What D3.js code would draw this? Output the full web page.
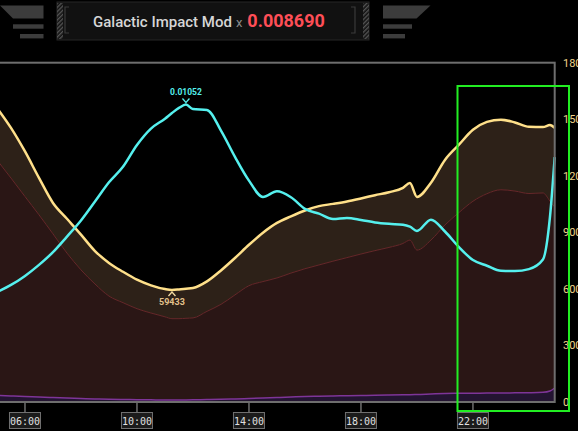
<script src="https://d3js.org/d3.v7.min.js"></script>

<style>
  body { margin: 0; background: #000; overflow: hidden; }
</style>

<div id="my_dataviz"></div>

<script>

// hours of the day (24+ = after midnight)
var hours = [5, 5.5, 6, 6.5, 7, 7.5, 8, 8.5, 9, 9.5, 10, 10.5, 11, 11.25, 11.5, 11.75,
  12, 12.5, 13, 13.5, 14, 14.5, 15, 15.5, 16, 16.5, 17, 17.5, 18, 18.5, 19, 19.5, 19.75,
  20, 20.5, 21, 21.5, 22, 22.5, 23, 23.5, 24, 24.5, 24.75, 24.92];

// total (yellow line, right axis)
var totalValues = [156000, 145400, 132900, 118900, 105600, 97200, 88800, 80100, 73800, 69100,
  64900, 61900, 59900, 59433, 59700, 60100, 60500, 64000, 69800, 76400, 83400, 89800, 95000,
  98500, 101600, 103900, 105100, 106400, 108000, 109700, 111300, 113600, 116200, 108800,
  116300, 128400, 136500, 144400, 148600, 149800, 148300, 146000, 145900, 146900, 145400];

// lower band (dark red line)
var lowerValues = [128400, 118800, 109000, 99300, 89200, 79000, 70100, 62600, 56200, 52700,
  49500, 47200, 45200, 44200, 44200, 44400, 44600, 48100, 51800, 56800, 61700, 63900, 65800,
  68400, 70700, 72700, 74700, 76600, 78500, 80300, 82000, 84100, 85900, 80600, 85900, 93900,
  100500, 106500, 110500, 112600, 111900, 110600, 110900, 106600, 103400];

// bottom purple series
var baseValues = [3450, 3180, 2920, 2650, 2390, 2120, 1860, 1640, 1430, 1320, 1220, 1140, 1060,
  1060, 1080, 1120, 1170, 1300, 1430, 1640, 1860, 2120, 2390, 2650, 2920, 3050, 3180, 3320,
  3450, 3580, 3710, 3850, 3900, 3980, 4250, 4510, 4600, 4670, 4720, 4770, 4850, 4930, 5150,
  5840, 7430];

// galactic impact modifier (cyan line, left scale)
var impactValues = [0.00389, 0.00414, 0.00446, 0.00485, 0.00530, 0.00585, 0.00642, 0.00709,
  0.00777, 0.00832, 0.00909, 0.00967, 0.01002, 0.01022, 0.01040, 0.01052, 0.01036, 0.01033,
  0.00960, 0.00867, 0.00783, 0.00725, 0.00745, 0.00724, 0.00683, 0.00666, 0.00647, 0.00651,
  0.00644, 0.00635, 0.00630, 0.00627, 0.00620, 0.00605, 0.00645, 0.00603, 0.00548, 0.00502,
  0.00482, 0.00464, 0.00463, 0.00470, 0.00504, 0.00654, 0.00866];

var xTicks = [6, 10, 14, 18, 22];
var yTicks = [0, 30000, 60000, 90000, 120000, 150000, 180000];
var currentMod = "0.008690";

var data = hours.map(function(h, i) {
  return { h: h, total: totalValues[i], lower: lowerValues[i], base: baseValues[i], impact: impactValues[i] };
});

var W = 578, H = 431;
var plot = { left: -143, right: 554.7, top: 62.7, bottom: 402 };

var svg = d3.select("#my_dataviz")
  .append("svg")
    .attr("width", W)
    .attr("height", H)
    .style("font-family", "Roboto, sans-serif");

svg.append("rect").attr("width", W).attr("height", H).attr("fill", "#000");

var x = d3.scaleLinear().domain([0, 24.92]).range([plot.left, plot.right]);
var y = d3.scaleLinear().domain([0, 180000]).range([plot.bottom, plot.top]);
var yImpact = d3.scaleLinear().domain([0, 0.012]).range([plot.bottom, plot.top]);

var curve = d3.curveMonotoneX;

// stacked looking areas
svg.append("path")
  .datum(data)
  .attr("fill", "#2d2118")
  .attr("d", d3.area().curve(curve)
    .x(function(d) { return x(d.h); })
    .y0(function(d) { return y(d.lower); })
    .y1(function(d) { return y(d.total); }));

svg.append("path")
  .datum(data)
  .attr("fill", "#2a1615")
  .attr("d", d3.area().curve(curve)
    .x(function(d) { return x(d.h); })
    .y0(function(d) { return y(d.base); })
    .y1(function(d) { return y(d.lower); }));

svg.append("path")
  .datum(data)
  .attr("fill", "#231431")
  .attr("d", d3.area().curve(curve)
    .x(function(d) { return x(d.h); })
    .y0(y(0))
    .y1(function(d) { return y(d.base); }));

// thin lines
svg.append("path")
  .datum(data)
  .attr("fill", "none")
  .attr("stroke", "#66282a")
  .attr("stroke-width", 1)
  .attr("d", d3.line().curve(curve)
    .x(function(d) { return x(d.h); })
    .y(function(d) { return y(d.lower); }));

svg.append("path")
  .datum(data)
  .attr("fill", "none")
  .attr("stroke", "#7e3598")
  .attr("stroke-width", 1.5)
  .attr("d", d3.line().curve(curve)
    .x(function(d) { return x(d.h); })
    .y(function(d) { return y(d.base); }));

// main lines
svg.append("path")
  .datum(data)
  .attr("fill", "none")
  .attr("stroke", "#ffe08a")
  .attr("stroke-width", 2.5)
  .attr("d", d3.line().curve(curve)
    .x(function(d) { return x(d.h); })
    .y(function(d) { return y(d.total); }));

svg.append("path")
  .datum(data)
  .attr("fill", "none")
  .attr("stroke", "#55f0ee")
  .attr("stroke-width", 2.5)
  .attr("d", d3.line().curve(curve)
    .x(function(d) { return x(d.h); })
    .y(function(d) { return yImpact(d.impact); }));

// frame
svg.append("rect")
  .attr("x", plot.left)
  .attr("y", plot.top)
  .attr("width", plot.right - plot.left)
  .attr("height", plot.bottom - plot.top)
  .attr("fill", "none")
  .attr("stroke", "#6e6e6e")
  .attr("stroke-width", 2);

// peak / low markers
var peak = data.reduce(function(a, b) { return b.impact > a.impact ? b : a; });
var low = data.reduce(function(a, b) { return b.total < a.total ? b : a; });

var px = x(peak.h), py = yImpact(peak.impact);
svg.append("path")
  .attr("d", "M" + (px - 3.5) + "," + (py - 6) + "L" + px + "," + (py - 2) + "L" + (px + 3.5) + "," + (py - 6))
  .attr("fill", "none").attr("stroke", "#55f0ee").attr("stroke-width", 1.3);
svg.append("text")
  .attr("x", px).attr("y", py - 10)
  .attr("text-anchor", "middle")
  .attr("fill", "#55f0ee")
  .style("font-size", "8.5px").style("font-weight", "bold")
  .text(d3.format(".5f")(peak.impact));

var lx = x(low.h), ly = y(low.total);
svg.append("path")
  .attr("d", "M" + (lx - 3.5) + "," + (ly + 6) + "L" + lx + "," + (ly + 2) + "L" + (lx + 3.5) + "," + (ly + 6))
  .attr("fill", "none").attr("stroke", "#f2d9a0").attr("stroke-width", 1.3);
svg.append("text")
  .attr("x", lx).attr("y", ly + 15)
  .attr("text-anchor", "middle")
  .attr("fill", "#e3c28c")
  .style("font-size", "9px").style("font-weight", "bold")
  .text(low.total);

// x axis: tick stubs + boxed labels
var xAxis = svg.append("g");
var xt = xAxis.selectAll("g").data(xTicks).enter().append("g")
  .attr("transform", function(d) { return "translate(" + x(d) + ",0)"; });
xt.append("line")
  .attr("y1", plot.bottom).attr("y2", plot.bottom + 10)
  .attr("stroke", "#6e6e6e").attr("stroke-width", 1.5);
xt.append("rect")
  .attr("x", -15.5).attr("y", plot.bottom + 10.5)
  .attr("width", 31).attr("height", 16)
  .attr("fill", "#1b1b1b").attr("stroke", "#707070").attr("stroke-width", 1);
xt.append("text")
  .attr("y", plot.bottom + 22.5)
  .attr("text-anchor", "middle")
  .attr("fill", "#e0e0e0")
  .style("font-family", "'DejaVu Sans Mono', monospace")
  .style("font-size", "10px")
  .text(function(d) { return (d < 10 ? "0" : "") + d + ":00"; });

// right axis labels (clipped by the window)
svg.append("g").selectAll("text").data(yTicks).enter().append("text")
  .attr("x", 563)
  .attr("y", function(d) { return y(d); })
  .attr("dy", "0.35em")
  .attr("fill", "#f0d488")
  .style("font-size", "11px")
  .text(function(d) { return d; });

// highlight box
svg.append("rect")
  .attr("x", 457.5).attr("y", 86)
  .attr("width", 111.5).attr("height", 325)
  .attr("fill", "none")
  .attr("stroke", "#22ee22")
  .attr("stroke-width", 2);

// header wings
var wing = "#3c3c3c";
svg.append("path").attr("fill", wing).attr("d", "M0,5.5L43.5,5.5L43.5,18.5L13,18.5Z");
svg.append("rect").attr("fill", wing).attr("x", 13).attr("y", 24.3).attr("width", 30.5).attr("height", 4.4);
svg.append("rect").attr("fill", wing).attr("x", 20).attr("y", 34).attr("width", 23.5).attr("height", 4.4);
svg.append("path").attr("fill", wing).attr("d", "M383,5.5L430.5,5.5L416.5,18.5L383,18.5Z");
svg.append("rect").attr("fill", wing).attr("x", 383).attr("y", 24.3).attr("width", 29).attr("height", 4.4);
svg.append("rect").attr("fill", wing).attr("x", 383).attr("y", 34).attr("width", 22).attr("height", 4.4);

// header panel
var defs = svg.append("defs");
defs.append("pattern")
  .attr("id", "hatch").attr("width", 3).attr("height", 3)
  .attr("patternUnits", "userSpaceOnUse").attr("patternTransform", "rotate(45)")
  .append("rect").attr("width", 1.4).attr("height", 3).attr("fill", "#555");

svg.append("rect")
  .attr("x", 57).attr("y", 2).attr("width", 312).attr("height", 38)
  .attr("fill", "#111").attr("stroke", "#262626").attr("stroke-width", 1);
svg.append("rect").attr("x", 57).attr("y", 3).attr("width", 6).attr("height", 36).attr("fill", "url(#hatch)");
svg.append("rect").attr("x", 363).attr("y", 3).attr("width", 6).attr("height", 36).attr("fill", "url(#hatch)");
svg.append("path").attr("fill", "none").attr("stroke", "#3a3a3a").attr("stroke-width", 1.2)
  .attr("d", "M69,7L65,7L65,33L69,33");
svg.append("path").attr("fill", "none").attr("stroke", "#3a3a3a").attr("stroke-width", 1.2)
  .attr("d", "M351,7L355,7L355,33L351,33");

var title = svg.append("text").attr("y", 27).style("font-size", "15px");
title.append("tspan").attr("x", 93).attr("fill", "#d6d6d6").style("font-weight", "500").text("Galactic Impact Mod");
title.append("tspan").attr("dx", 4).attr("fill", "#8a8a8a").style("font-size", "13px").text("x");
title.append("tspan").attr("dx", 5).attr("fill", "#ff4e57").style("font-size", "18px").style("font-weight", "bold").text(currentMod);

</script>
